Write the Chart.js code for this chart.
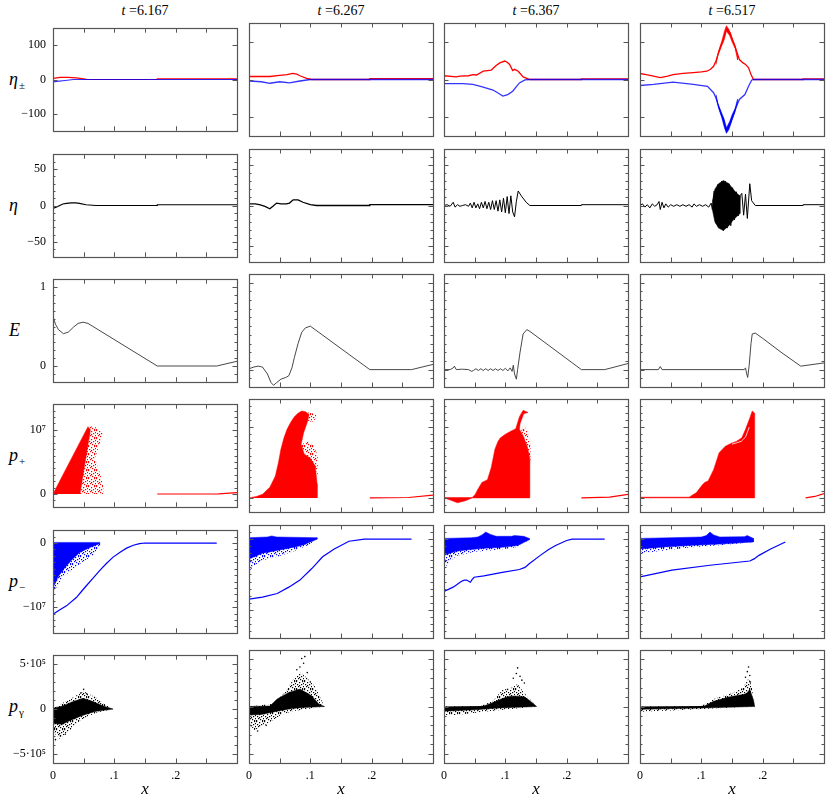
<!DOCTYPE html>
<html>
<head>
<meta charset="utf-8">
<script src="https://cdn.jsdelivr.net/npm/chart.js@4.4.0/dist/chart.umd.min.js"></script>
<style>
    body { margin: 0; width: 830px; height: 794px; background: #fff; position: relative; overflow: hidden;
           font-family: "Liberation Serif", "DejaVu Serif", serif; color: #000; }
    canvas { position: absolute; }
    .ttl { position: absolute; top: 3px; width: 184px; text-align: center; font-size: 14px; }
    .ylab { position: absolute; left: 9px; font-size: 18px; font-style: italic; line-height: 20px; }
    .ylab sub { font-size: 11px; font-style: normal; vertical-align: -4px; margin-left: 1px; }
</style>
</head>
<body>
<script>
// ── Etiquetas y ejes ──────────────────────────────────────────
const tValues = ['6.167', '6.267', '6.367', '6.517'];
const rowSymbols = ['η', 'η', 'E', 'p', 'p', 'p'];
const rowSubscripts = ['±', '', '', '+', '−', 'γ'];
const xTickValues = [0, 0.1, 0.2];
const xTickLabels = ['0', '.1', '.2'];
const yRanges = [[-150, 150], [-70, 70], [-0.2, 1.1], [-0.2e7, 1.4e7], [-1.4e7, 0.2e7], [-6e5, 6e5]];
const ySteps = [50, 10, 0.1, 1e6, 1e6, 1e5];
const yMinorTicks = [false, true, true, true, true, true];
const yTickValues = [[-100, 0, 100], [-50, 0, 50], [0, 1], [0, 1e7], [-1e7, 0], [-5e5, 0, 5e5]];
const yTickLabels = [['−100', '0', '100'], ['−50', '0', '50'], ['0', '1'], ['0', '10⁷'], ['−10⁷', '0'], ['−5·10⁵', '0', '5·10⁵']];

// ── η± ────────────────────────────────────────────────────────
const etaPlus_t1 = [[0,3],[0.012,6],[0.025,6],[0.038,5],[0.05,2],[0.056,0],[0.17,0],[0.17,2],[0.3,2]];
const etaMinus_t1 = [[0,-7],[0.01,-5],[0.02,-3],[0.033,0],[0.3,0]];
const etaPlus_t2 = [[0,8],[0.02,8],[0.034,8],[0.05,11],[0.062,13],[0.071,16],[0.078,14],[0.083,10],[0.094,3],[0.102,0],[0.197,0],[0.197,2],[0.3,2]];
const etaMinus_t2 = [[0,-4],[0.02,-6],[0.034,-10],[0.05,-6],[0.066,-9],[0.083,-4],[0.1,0],[0.3,0]];
const etaPlus_t3 = [[0,10],[0.02,7],[0.026,9],[0.04,10],[0.047,13],[0.053,12],[0.064,22],[0.077,25],[0.085,37],[0.091,44],[0.099,49],[0.103,46],[0.107,40],[0.112,24],[0.115,27],[0.121,22],[0.129,7],[0.14,0],[0.224,0],[0.224,1.5],[0.3,1.5]];
const etaMinus_t3 = [[0,-11],[0.031,-11],[0.047,-13],[0.061,-19],[0.08,-28],[0.09,-38],[0.096,-44],[0.104,-40],[0.112,-31],[0.118,-19],[0.123,-9],[0.132,-1],[0.14,0],[0.3,0]];
const etaPlus_t4 = [[0,16],[0.01,13],[0.022,9],[0.033,5],[0.045,9],[0.054,13],[0.07,16],[0.087,18],[0.1,20],[0.109,22],[0.115,27],[0.12,35],[0.124,50],[0.128,71],[0.132,90],[0.136,106],[0.141,137],[0.147,124],[0.151,105],[0.155,88],[0.162,53],[0.168,44],[0.172,40],[0.177,31],[0.181,13],[0.185,0],[0.266,0],[0.266,1.5],[0.3,1.5]];
const etaPlusBand_t4 = [[0.124,45],[0.128,75],[0.133,100],[0.138,130],[0.141,143],[0.145,133],[0.15,110],[0.155,90],[0.159,62],[0.159,52],[0.155,82],[0.15,100],[0.146,117],[0.141,128],[0.137,104],[0.132,84],[0.127,64],[0.124,40]];
const etaMinus_t4 = [[0,-16],[0.022,-13],[0.054,-7],[0.087,-13],[0.11,-18],[0.12,-35],[0.124,-50],[0.128,-71],[0.132,-90],[0.136,-106],[0.141,-137],[0.147,-119],[0.151,-100],[0.155,-80],[0.162,-53],[0.171,-40],[0.177,-18],[0.182,-2],[0.185,0],[0.3,0]];
const etaMinusBand_t4 = [[0.124,-45],[0.128,-75],[0.133,-100],[0.138,-130],[0.141,-143],[0.145,-133],[0.15,-108],[0.155,-86],[0.159,-60],[0.159,-52],[0.155,-77],[0.15,-94],[0.146,-112],[0.141,-128],[0.137,-104],[0.132,-84],[0.127,-64],[0.124,-40]];

// ── η ─────────────────────────────────────────────────────────
const eta_t1 = [[0,-4],[0.006,-2],[0.011,0],[0.016,2],[0.022,3],[0.03,3.5],[0.037,3.5],[0.043,3],[0.054,1],[0.07,0],[0.17,0],[0.17,1],[0.3,1]];
const eta_t2 = [[0,2],[0.01,2],[0.017,1],[0.026,-1],[0.034,-4],[0.039,-1],[0.045,3],[0.052,2],[0.061,2],[0.066,3],[0.072,7],[0.08,7],[0.088,4],[0.1,1],[0.11,0],[0.197,0],[0.197,1],[0.3,1]];
const eta_t3 = [[0,0],[0.005,1],[0.01,-1],[0.015,4],[0.018,-2],[0.022,1],[0.026,-1],[0.03,0],[0.035,1],[0.04,-1],[0.043,3],[0.046,-3],[0.049,4],[0.052,-3],[0.055,2],[0.058,-4],[0.061,4],[0.064,-3],[0.067,5],[0.07,-4],[0.073,4],[0.076,-5],[0.079,6],[0.082,-5],[0.085,6],[0.088,-7],[0.091,7],[0.094,-8],[0.097,9],[0.1,-9],[0.103,11],[0.106,-10],[0.109,12],[0.112,-8],[0.115,-14],[0.118,5],[0.121,18],[0.126,12],[0.134,4],[0.14,0],[0.224,0],[0.224,1],[0.3,1]];
const eta_t4 = [[0,0],[0.004,2],[0.008,-2],[0.012,1],[0.016,-3],[0.02,2],[0.024,-1],[0.028,1],[0.031,5],[0.033,-5],[0.036,4],[0.039,-3],[0.042,2],[0.046,-2],[0.05,1],[0.055,-1],[0.06,1],[0.065,-1],[0.07,1],[0.075,-1],[0.08,1],[0.085,-2],[0.088,2],[0.092,-1],[0.097,1],[0.102,-1],[0.107,1],[0.112,-2],[0.116,3],[0.118,-5],[0.121,18],[0.124,-22],[0.127,26],[0.13,-28],[0.133,30],[0.136,-31],[0.139,30],[0.142,-28],[0.145,27],[0.148,-25],[0.151,22],[0.154,-18],[0.157,17],[0.16,-13],[0.163,12],[0.166,15],[0.169,-12],[0.172,14],[0.175,-16],[0.179,27],[0.182,6],[0.188,0],[0.266,0],[0.266,1],[0.3,1]];
const etaBlob_t4 = [[0.118,5],[0.122,20],[0.128,27],[0.136,31],[0.145,27],[0.152,20],[0.158,15],[0.163,12],[0.163,-10],[0.16,-12],[0.152,-18],[0.145,-25],[0.136,-31],[0.128,-28],[0.122,-20],[0.118,-5]];

// ── E ─────────────────────────────────────────────────────────
const E_t1 = [[0,0.63],[0.004,0.53],[0.009,0.46],[0.017,0.41],[0.025,0.43],[0.033,0.49],[0.041,0.54],[0.049,0.555],[0.057,0.54],[0.17,0],[0.267,0],[0.3,0.06]];
const E_t2 = [[0,0.01],[0.008,0.03],[0.015,0.04],[0.022,0.03],[0.03,-0.05],[0.036,-0.15],[0.04,-0.18],[0.045,-0.15],[0.052,-0.11],[0.06,-0.09],[0.065,-0.07],[0.07,0.02],[0.074,0.14],[0.08,0.3],[0.086,0.43],[0.092,0.48],[0.1,0.5],[0.197,0],[0.265,0],[0.3,0.06]];
const E_t3 = [[0,0],[0.01,0],[0.015,0.02],[0.017,0.04],[0.02,0],[0.03,0.005],[0.04,0],[0.045,-0.02],[0.048,-0.01],[0.052,0.01],[0.056,-0.01],[0.06,0.01],[0.064,-0.01],[0.068,0.01],[0.072,-0.01],[0.076,0.01],[0.08,-0.01],[0.084,0.01],[0.088,-0.01],[0.092,0.01],[0.096,-0.01],[0.1,0.015],[0.104,-0.015],[0.108,0.02],[0.111,-0.02],[0.113,0.05],[0.115,-0.05],[0.118,-0.11],[0.12,0],[0.124,0.2],[0.129,0.41],[0.135,0.46],[0.14,0.44],[0.224,0],[0.262,0],[0.3,0.07]];
const E_t4 = [[0,0],[0.03,0],[0.033,0.035],[0.036,0],[0.17,0],[0.172,0.02],[0.174,-0.05],[0.1756,-0.09],[0.178,0.05],[0.181,0.3],[0.183,0.41],[0.188,0.42],[0.2,0.36],[0.23,0.2],[0.262,0.04],[0.3,0.077]];

// ── p+ ────────────────────────────────────────────────────────
const pPlusDense_t1 = [[0,0],[0.057,1.05e7],[0.061,1.0e7],[0.044,0]];
const pPlusSparse_t1 = [[0.04,0],[0.082,0],[0.082,0.1e7],[0.077,0.32e7],[0.068,0.55e7],[0.075,0.75e7],[0.082,0.95e7],[0.07,1.04e7],[0.058,1.06e7],[0.05,0.7e7]];
const pPlusLine_t1 = [[0.17,0],[0.27,0.003e7],[0.3,0.02e7]];
const pPlusDense_t2 = [[0,0],[0.012,0.02e7],[0.022,0.05e7],[0.034,0.15e7],[0.043,0.31e7],[0.048,0.5e7],[0.052,0.69e7],[0.057,0.85e7],[0.062,0.97e7],[0.068,1.07e7],[0.074,1.15e7],[0.08,1.2e7],[0.086,1.23e7],[0.092,1.22e7],[0.098,1.18e7],[0.095,1.07e7],[0.089,0.92e7],[0.085,0.76e7],[0.09,0.62e7],[0.1,0.56e7],[0.108,0.45e7],[0.111,0.2e7],[0.111,0]];
const pPlusSparse_t2 = [[0.084,0.75e7],[0.095,0.8e7],[0.105,0.75e7],[0.112,0.6e7],[0.112,0.3e7],[0.1,0.5e7]];
const pPlusSparseTop_t2 = [[0.09,1.22e7],[0.103,1.2e7],[0.11,1.17e7],[0.106,1.08e7],[0.097,1.08e7]];
const pPlusLine_t2 = [[0.197,0],[0.26,0.005e7],[0.3,0.04e7]];
const pPlusDense_t3 = [[0,0],[0.01,-0.03e7],[0.022,-0.07e7],[0.035,-0.04e7],[0.046,0],[0.14,0],[0.14,0.55e7],[0.136,0.72e7],[0.129,0.88e7],[0.123,0.97e7],[0.124,1.05e7],[0.13,1.19e7],[0.137,1.21e7],[0.129,1.24e7],[0.123,1.15e7],[0.117,0.98e7],[0.108,0.94e7],[0.1,0.9e7],[0.092,0.85e7],[0.088,0.8e7],[0.083,0.69e7],[0.077,0.43e7],[0.071,0.26e7],[0.067,0.24e7],[0.062,0.22e7],[0.055,0.12e7],[0.051,0.05e7],[0.046,0.005e7],[0,0.005e7]];
const pPlusSparse_t3 = [[0.126,0.95e7],[0.13,1.02e7],[0.136,0.96e7],[0.141,0.75e7],[0.141,0.5e7],[0.133,0.75e7]];
const pPlusLine_t3 = [[0.224,0],[0.27,0.01e7],[0.3,0.05e7]];
const pPlusDense_t4 = [[0,0],[0.187,0],[0.187,1.2e7],[0.183,1.23e7],[0.179,1.13e7],[0.172,0.97e7],[0.166,0.85e7],[0.157,0.8e7],[0.148,0.77e7],[0.139,0.73e7],[0.129,0.64e7],[0.12,0.4e7],[0.111,0.24e7],[0.106,0.22e7],[0.102,0.19e7],[0.092,0.075e7],[0.08,0.01e7],[0,0.01e7]];
const pPlusGap_t4 = [[0.15,0.76e7],[0.165,0.8e7],[0.172,0.86e7],[0.178,1.0e7]];
const pPlusLine_t4 = [[0.27,0],[0.285,0.02e7],[0.3,0.06e7]];

// ── p− ────────────────────────────────────────────────────────
const pMinusDense_t1 = [[0,0.01e7],[0.076,0.01e7],[0.076,-0.01e7],[0.06,-0.07e7],[0.043,-0.15e7],[0.03,-0.27e7],[0.019,-0.39e7],[0.008,-0.53e7],[0,-0.7e7]];
const pMinusSparse_t1 = [[0,0],[0.078,0],[0.078,-0.02e7],[0.065,-0.2e7],[0.049,-0.29e7],[0.03,-0.43e7],[0.016,-0.53e7],[0.005,-0.7e7],[0,-0.78e7]];
const pMinusLine_t1 = [[0,-1.11e7],[0.01,-1.05e7],[0.022,-0.98e7],[0.038,-0.85e7],[0.046,-0.76e7],[0.054,-0.67e7],[0.065,-0.55e7],[0.076,-0.43e7],[0.087,-0.32e7],[0.098,-0.22e7],[0.11,-0.14e7],[0.12,-0.08e7],[0.131,-0.035e7],[0.141,-0.01e7],[0.15,0],[0.267,0]];
const pMinusDense_t2 = [[0,0.02e7],[0.03,0.03e7],[0.037,0.045e7],[0.045,0.03e7],[0.111,0.02e7],[0.111,0],[0.1,-0.04e7],[0.09,-0.08e7],[0.075,-0.11e7],[0.046,-0.16e7],[0.022,-0.2e7],[0,-0.28e7]];
const pMinusSparse_t2 = [[0,0],[0.112,0],[0.095,-0.09e7],[0.071,-0.18e7],[0.046,-0.25e7],[0.022,-0.3e7],[0.009,-0.37e7],[0,-0.46e7]];
const pMinusLine_t2 = [[0,-0.85e7],[0.022,-0.82e7],[0.046,-0.77e7],[0.065,-0.68e7],[0.083,-0.58e7],[0.102,-0.42e7],[0.12,-0.25e7],[0.139,-0.14e7],[0.163,-0.03e7],[0.188,0],[0.265,0]];
const pMinusDense_t3 = [[0,0.01e7],[0.045,0.02e7],[0.055,0.03e7],[0.062,0.06e7],[0.068,0.1e7],[0.075,0.07e7],[0.085,0.04e7],[0.11,0.04e7],[0.115,0.05e7],[0.13,0.04e7],[0.139,0.01e7],[0.139,-0.01e7],[0.12,-0.09e7],[0.09,-0.12e7],[0.065,-0.13e7],[0.04,-0.15e7],[0.02,-0.17e7],[0,-0.23e7]];
const pMinusSparse_t3 = [[0,0],[0.14,0],[0.12,-0.11e7],[0.09,-0.15e7],[0.05,-0.18e7],[0.02,-0.24e7],[0.009,-0.32e7],[0,-0.42e7]];
const pMinusLine_t3 = [[0,-0.74e7],[0.015,-0.68e7],[0.028,-0.6e7],[0.033,-0.58e7],[0.037,-0.58e7],[0.043,-0.61e7],[0.046,-0.57e7],[0.049,-0.54e7],[0.065,-0.52e7],[0.095,-0.47e7],[0.123,-0.43e7],[0.132,-0.4e7],[0.139,-0.35e7],[0.157,-0.23e7],[0.17,-0.15e7],[0.182,-0.09e7],[0.2,-0.02e7],[0.209,0],[0.262,0]];
const pMinusDense_t4 = [[0,0.01e7],[0.1,0.03e7],[0.108,0.05e7],[0.114,0.1e7],[0.12,0.06e7],[0.13,0.03e7],[0.17,0.035e7],[0.175,0.05e7],[0.185,0.01e7],[0.185,-0.04e7],[0.13,-0.07e7],[0.08,-0.09e7],[0.04,-0.11e7],[0,-0.14e7]];
const pMinusSparse_t4 = [[0,0],[0.186,0],[0.186,-0.04e7],[0.14,-0.08e7],[0.08,-0.12e7],[0.03,-0.17e7],[0,-0.2e7]];
const pMinusLine_t4 = [[0,-0.535e7],[0.052,-0.44e7],[0.114,-0.37e7],[0.179,-0.31e7],[0.186,-0.28e7],[0.194,-0.23e7],[0.213,-0.14e7],[0.237,-0.04e7]];

// ── pγ ────────────────────────────────────────────────────────
const pGamDense_t1 = [[0,0.1e5],[0.016,0.35e5],[0.033,0.85e5],[0.049,1.2e5],[0.065,0.85e5],[0.082,0.35e5],[0.098,0],[0.07,-0.25e5],[0.05,-0.65e5],[0.03,-1.2e5],[0.015,-1.7e5],[0,-1.6e5]];
const pGamSparse_t1 = [[0,0.1e5],[0.03,1.2e5],[0.05,2.0e5],[0.07,1.3e5],[0.085,0.5e5],[0.098,0],[0.07,-0.4e5],[0.045,-1.2e5],[0.025,-2.5e5],[0.01,-3.3e5],[0,-2.5e5]];
const pGamDots_t1 = [[0.05,2.2e5],[0.055,1.7e5],[0.045,1.8e5],[0.004,-3.4e5],[0.012,-3.0e5],[0.02,-2.8e5]];
const pGamDense_t2 = [[0,0],[0.034,0.05e5],[0.046,0.8e5],[0.065,1.5e5],[0.083,1.85e5],[0.102,1.15e5],[0.114,0.25e5],[0.123,0],[0.09,-0.1e5],[0.07,-0.2e5],[0.046,-0.5e5],[0.02,-0.85e5],[0,-0.9e5]];
const pGamSparse_t2 = [[0,0],[0.04,0.3e5],[0.06,1.6e5],[0.071,2.8e5],[0.083,3.7e5],[0.095,3.0e5],[0.108,2.1e5],[0.123,0],[0.07,-0.5e5],[0.052,-0.9e5],[0.03,-1.8e5],[0.009,-2.5e5],[0,-1.9e5]];
const pGamDots_t2 = [[0.083,4.2e5],[0.086,5.1e5],[0.091,5.3e5],[0.089,4.6e5],[0.095,3.6e5],[0.078,3.9e5],[0.1,2.6e5],[0.014,-2.6e5],[0.028,-2.0e5]];
const pGamDense_t3 = [[0,0],[0,-0.5e5],[0.05,-0.35e5],[0.09,-0.15e5],[0.151,0],[0.145,0.35e5],[0.132,1.0e5],[0.12,1.1e5],[0.108,1.1e5],[0.095,0.85e5],[0.083,0.5e5],[0.065,0.05e5]];
const pGamSparse_t3 = [[0,0],[0,-0.9e5],[0.02,-0.9e5],[0.065,-0.55e5],[0.151,0],[0.14,0.8e5],[0.13,1.5e5],[0.12,2.4e5],[0.11,2.0e5],[0.095,1.75e5],[0.08,0.6e5],[0.06,0.05e5]];
const pGamDots_t3 = [[0.12,4.1e5],[0.118,3.5e5],[0.124,3.2e5],[0.127,2.8e5],[0.113,3.0e5],[0.131,2.5e5]];
const pGamDense_t4 = [[0,0],[0,-0.3e5],[0.1,-0.15e5],[0.187,0],[0.185,0.7e5],[0.179,1.8e5],[0.174,1.4e5],[0.17,1.3e5],[0.145,1.0e5],[0.12,0.55e5],[0.105,0.05e5]];
const pGamSparse_t4 = [[0,0],[0,-0.55e5],[0.06,-0.4e5],[0.187,0],[0.182,2.2e5],[0.177,3.0e5],[0.168,2.0e5],[0.15,1.4e5],[0.12,0.8e5],[0.1,0.05e5]];
const pGamDots_t4 = [[0.177,4.2e5],[0.175,3.7e5],[0.179,3.3e5],[0.172,3.1e5],[0.18,2.6e5]];

// ── Relleno punteado (estilo) ─────────────────────────────────
const speckDots = [[0,0],[3,1],[6,0],[1,3],[5,3],[2,5],[7,5],[4,6],[0,7],[6,7],[3,4],[7,2]];
function speckle(color) {
    const c = document.createElement('canvas');
    c.width = 8; c.height = 8;
    const g = c.getContext('2d');
    g.fillStyle = color;
    speckDots.forEach(([x, y]) => g.fillRect(x, y, 1.2, 1.2));
    return g.createPattern(c, 'repeat');
}

// ── Datasets helpers ──────────────────────────────────────────
const RED = '#ff0000', BLUE = '#0000ff', BLACK = '#000000';
const pts = a => a.map(p => ({ x: p[0], y: p[1] }));
const line = (d, c, w) => ({ data: pts(d), borderColor: c, borderWidth: w, pointRadius: 0, fill: false });
const shape = (d, c) => ({ data: pts(d), borderColor: c, borderWidth: 0.5, backgroundColor: c, fill: 'shape', pointRadius: 0 });
const sparse = (d, c) => ({ data: pts(d), borderWidth: 0, borderColor: 'rgba(0,0,0,0)', backgroundColor: speckle(c), fill: 'shape', pointRadius: 0 });
const dots = (d, c) => ({ data: pts(d), showLine: false, pointRadius: 0.8, pointBackgroundColor: c, pointBorderWidth: 0 });

// listas de abajo hacia arriba
const panels = [
    [
        [line(etaPlus_t1, RED, 1.2), line(etaMinus_t1, 'rgba(0,0,255,.8)', 1.2)],
        [line(etaPlus_t2, RED, 1.3), line(etaMinus_t2, 'rgba(0,0,255,.8)', 1.3)],
        [line(etaPlus_t3, RED, 1.3), line(etaMinus_t3, 'rgba(0,0,255,.8)', 1.3)],
        [line(etaPlus_t4, RED, 1.3), shape(etaPlusBand_t4, RED), line(etaMinus_t4, 'rgba(0,0,255,.8)', 1.3), shape(etaMinusBand_t4, BLUE)],
    ],
    [
        [line(eta_t1, BLACK, 1.2)],
        [line(eta_t2, BLACK, 1.3)],
        [line(eta_t3, BLACK, 1)],
        [shape(etaBlob_t4, BLACK), line(eta_t4, BLACK, 1)],
    ],
    [
        [line(E_t1, '#333', 0.9)],
        [line(E_t2, '#333', 0.9)],
        [line(E_t3, '#333', 0.9)],
        [line(E_t4, '#333', 0.9)],
    ],
    [
        [sparse(pPlusSparse_t1, RED), shape(pPlusDense_t1, RED), line(pPlusLine_t1, RED, 1.2)],
        [sparse(pPlusSparse_t2, RED), sparse(pPlusSparseTop_t2, RED), shape(pPlusDense_t2, RED), line(pPlusLine_t2, RED, 1.2)],
        [sparse(pPlusSparse_t3, RED), shape(pPlusDense_t3, RED), line(pPlusLine_t3, RED, 1.2)],
        [shape(pPlusDense_t4, RED), line(pPlusGap_t4, '#fff', 0.8), line(pPlusLine_t4, RED, 1.2)],
    ],
    [
        [sparse(pMinusSparse_t1, BLUE), shape(pMinusDense_t1, BLUE), line(pMinusLine_t1, BLUE, 1.2)],
        [sparse(pMinusSparse_t2, BLUE), shape(pMinusDense_t2, BLUE), line(pMinusLine_t2, BLUE, 1.2)],
        [sparse(pMinusSparse_t3, BLUE), shape(pMinusDense_t3, BLUE), line(pMinusLine_t3, BLUE, 1.2)],
        [sparse(pMinusSparse_t4, BLUE), shape(pMinusDense_t4, BLUE), line(pMinusLine_t4, BLUE, 1.2)],
    ],
    [
        [sparse(pGamSparse_t1, BLACK), shape(pGamDense_t1, BLACK), dots(pGamDots_t1, BLACK)],
        [sparse(pGamSparse_t2, BLACK), shape(pGamDense_t2, BLACK), dots(pGamDots_t2, BLACK)],
        [sparse(pGamSparse_t3, BLACK), shape(pGamDense_t3, BLACK), dots(pGamDots_t3, BLACK)],
        [sparse(pGamSparse_t4, BLACK), shape(pGamDense_t4, BLACK), dots(pGamDots_t4, BLACK)],
    ],
];

// ── Geometría ─────────────────────────────────────────────────
const colLeft = [53, 249, 444, 640];
const rowTop = [23, 149, 274, 399, 525, 650];
const PW = 184, PH = 113, PAD = 9;
const FONT = '"Liberation Serif", "DejaVu Serif", serif';

const near = (a, b, tol) => Math.abs(a - b) < tol;

function framePlugin(row) {
    return {
        id: 'frame' + row,
        afterDatasetsDraw(chart) {
            const { ctx, chartArea: a, scales: { x, y } } = chart;
            const tol = ySteps[row] * 1e-6;
            ctx.save();
            ctx.strokeStyle = '#555'; ctx.lineWidth = 1;
            ctx.beginPath();
            x.ticks.forEach(t => {
                const px = Math.round(x.getPixelForValue(t.value)) + 0.5;
                ctx.moveTo(px, a.bottom); ctx.lineTo(px, a.bottom - 4.5);
                ctx.moveTo(px, a.top); ctx.lineTo(px, a.top + 4.5);
            });
            y.ticks.forEach(t => {
                const major = yTickValues[row].some(v => near(v, t.value, tol));
                if (!major && !yMinorTicks[row]) return;
                const py = Math.round(y.getPixelForValue(t.value)) + 0.5;
                const len = major ? 4.5 : 2.5;
                ctx.moveTo(a.left, py); ctx.lineTo(a.left + len, py);
                ctx.moveTo(a.right, py); ctx.lineTo(a.right - len, py);
            });
            ctx.stroke();
            ctx.lineWidth = 1.2;
            ctx.strokeRect(Math.round(a.left) + 0.5, Math.round(a.top) + 0.5, Math.round(a.right - a.left), Math.round(a.bottom - a.top));
            ctx.restore();
        }
    };
}

// ── Títulos y etiquetas ───────────────────────────────────────
tValues.forEach((t, c) => {
    const d = document.createElement('div');
    d.className = 'ttl';
    d.style.left = colLeft[c] + 'px';
    d.innerHTML = '<i>t</i> =' + t;
    document.body.appendChild(d);
});
rowSymbols.forEach((s, r) => {
    const d = document.createElement('div');
    d.className = 'ylab';
    d.style.top = (rowTop[r] + PH / 2 - 11) + 'px';
    d.innerHTML = s + (rowSubscripts[r] ? '<sub>' + rowSubscripts[r] + '</sub>' : '');
    document.body.appendChild(d);
});

// ── Paneles ───────────────────────────────────────────────────
panels.forEach((rowSets, r) => {
    rowSets.forEach((sets, c) => {
        const L = c === 0 ? colLeft[0] : PAD;
        const B = r === 5 ? 37 : PAD;
        const cv = document.createElement('canvas');
        const w = L + PW + PAD, h = PAD + PH + B;
        cv.width = w; cv.height = h;
        cv.style.width = w + 'px'; cv.style.height = h + 'px';
        cv.style.left = (colLeft[c] - L) + 'px';
        cv.style.top = (rowTop[r] - PAD) + 'px';
        document.body.appendChild(cv);
        const tol = ySteps[r] * 1e-6;
        new Chart(cv, {
            type: 'line',
            data: { datasets: sets.slice().reverse() },
            options: {
                animation: false, responsive: false, events: [],
                layout: { padding: { top: PAD, right: PAD, left: 0, bottom: 0 } },
                plugins: { legend: { display: false }, tooltip: { enabled: false } },
                elements: { line: { tension: 0 } },
                scales: {
                    x: {
                        type: 'linear', min: 0, max: 0.3,
                        grid: { display: false, drawTicks: false }, border: { display: false },
                        ticks: {
                            display: r === 5, stepSize: 0.05, autoSkip: false, maxRotation: 0, padding: 6,
                            color: '#000', font: { family: FONT, size: 12 },
                            callback: v => { const i = xTickValues.findIndex(t => near(t, v, 1e-9)); return i >= 0 ? xTickLabels[i] : ''; }
                        },
                        title: { display: r === 5, text: 'x', color: '#000', padding: 0, font: { family: FONT, size: 17, style: 'italic' } },
                        afterFit: s => { s.height = B; }
                    },
                    y: {
                        type: 'linear', min: yRanges[r][0], max: yRanges[r][1],
                        grid: { display: false, drawTicks: false }, border: { display: false },
                        ticks: {
                            display: c === 0, stepSize: ySteps[r], autoSkip: false, padding: 7,
                            color: '#000', font: { family: FONT, size: 12 },
                            callback: v => { const i = yTickValues[r].findIndex(t => near(t, v, tol)); return i >= 0 ? yTickLabels[r][i] : ''; }
                        },
                        afterFit: s => { s.width = L; }
                    }
                }
            },
            plugins: [framePlugin(r)]
        });
    });
});
</script>
</body>
</html>
